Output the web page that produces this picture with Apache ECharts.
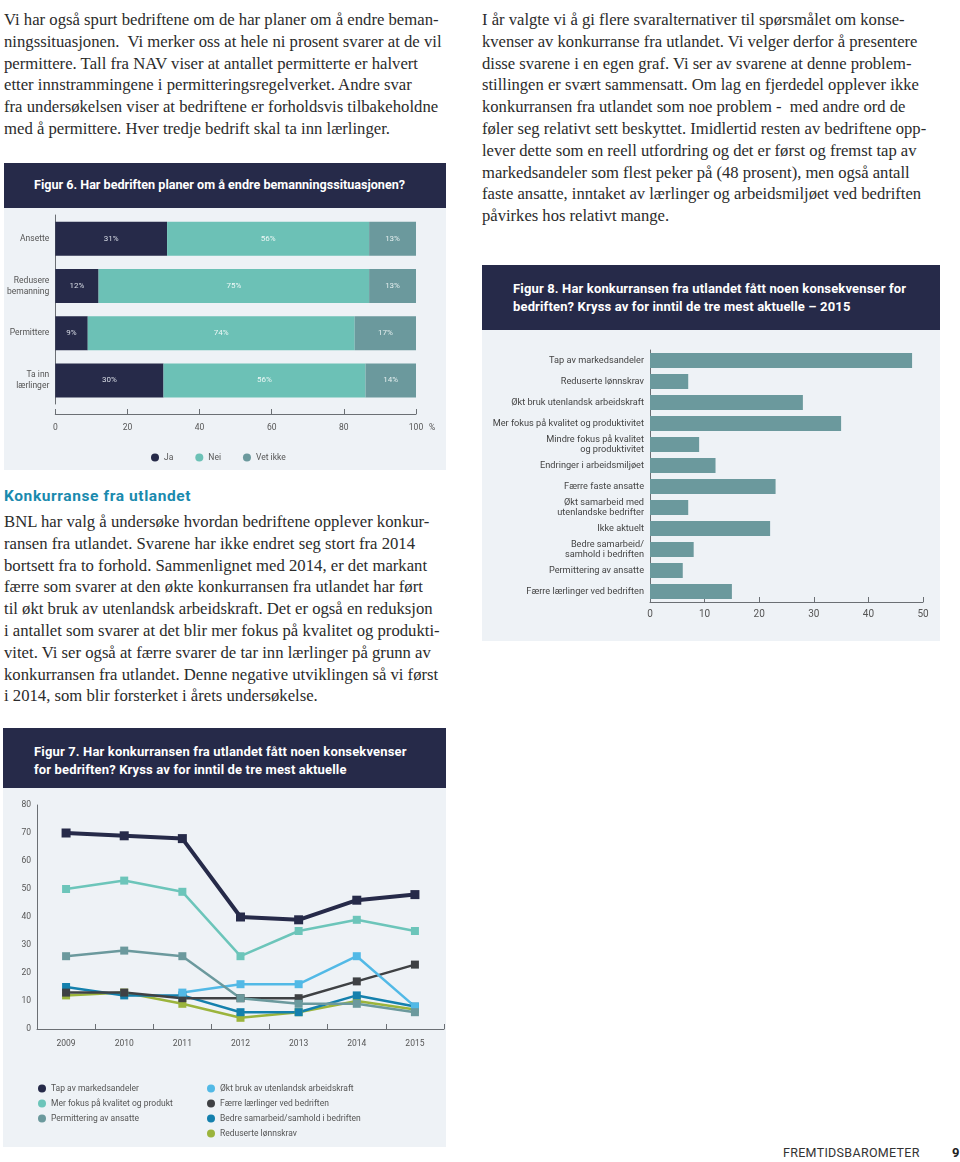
<!DOCTYPE html>
<html><head><meta charset="utf-8">
<script src="https://cdn.jsdelivr.net/npm/echarts/dist/echarts.min.js"></script>
<style>
html,body{margin:0;padding:0;background:#fff;}
body{width:960px;height:1162px;position:relative;overflow:hidden;}
.abs{position:absolute;}
.txt{font-family:"Liberation Serif",serif;font-size:16.7px;color:#2b2b2b;white-space:nowrap;}
.txt div{height:21.8px;line-height:21.8px;}
.hdr{background:#262a49;color:#fff;font-family:Roboto,sans-serif;font-weight:700;font-size:13px;letter-spacing:0.15px;box-sizing:border-box;}
.panel{background:#eef2f6;}
</style></head>
<body>
<div class="abs txt" style="left:4px;top:9px;">
<div>Vi har også spurt bedriftene om de har planer om å endre beman-</div>
<div>ningssituasjonen.&nbsp; Vi merker oss at hele ni prosent svarer at de vil</div>
<div>permittere. Tall fra NAV viser at antallet permitterte er halvert</div>
<div>etter innstrammingene i permitteringsregelverket. Andre svar</div>
<div>fra undersøkelsen viser at bedriftene er forholdsvis tilbakeholdne</div>
<div>med å permittere. Hver tredje bedrift skal ta inn lærlinger.</div>
</div>

<div class="abs txt" style="left:482px;top:9px;font-size:16.6px;">
<div>I år valgte vi å gi flere svaralternativer til spørsmålet om konse-</div>
<div>kvenser av konkurranse fra utlandet. Vi velger derfor å presentere</div>
<div>disse svarene i en egen graf. Vi ser av svarene at denne problem-</div>
<div>stillingen er svært sammensatt. Om lag en fjerdedel opplever ikke</div>
<div>konkurransen fra utlandet som noe problem -&nbsp; med andre ord de</div>
<div>føler seg relativt sett beskyttet. Imidlertid resten av bedriftene opp-</div>
<div>lever dette som en reell utfordring og det er først og fremst tap av</div>
<div>markedsandeler som flest peker på (48 prosent), men også antall</div>
<div>faste ansatte, inntaket av lærlinger og arbeidsmiljøet ved bedriften</div>
<div>påvirkes hos relativt mange.</div>
</div>

<div class="abs" style="left:4px;top:487px;font-family:Roboto,sans-serif;font-weight:700;font-size:15.5px;letter-spacing:0.6px;color:#1a8aae;">Konkurranse fra utlandet</div>
<div class="abs txt" style="left:4px;top:511px;">
<div>BNL har valg å undersøke hvordan bedriftene opplever konkur-</div>
<div>ransen fra utlandet. Svarene har ikke endret seg stort fra 2014</div>
<div>bortsett fra to forhold. Sammenlignet med 2014, er det markant</div>
<div>færre som svarer at den økte konkurransen fra utlandet har ført</div>
<div>til økt bruk av utenlandsk arbeidskraft. Det er også en reduksjon</div>
<div>i antallet som svarer at det blir mer fokus på kvalitet og produkti-</div>
<div>vitet. Vi ser også at færre svarer de tar inn lærlinger på grunn av</div>
<div>konkurransen fra utlandet. Denne negative utviklingen så vi først</div>
<div>i 2014, som blir forsterket i årets undersøkelse.</div>
</div>

<!-- Figure 6 -->
<div class="abs hdr" style="left:4px;top:163px;width:442px;height:45px;padding:14px 0 0 30px;font-size:12.6px;letter-spacing:0px;">Figur 6. Har bedriften planer om å endre bemanningssituasjonen?</div>
<div class="abs panel" style="left:4px;top:208px;width:442px;height:262px;"></div>
<div id="c6" class="abs" style="left:4px;top:208px;width:442px;height:262px;"></div>

<!-- Figure 8 -->
<div class="abs hdr" style="left:482px;top:265px;width:458px;height:65px;padding:15px 0 0 31px;line-height:17.5px;">Figur 8. Har konkurransen fra utlandet fått noen konsekvenser for<br>bedriften? Kryss av for inntil de tre mest aktuelle – 2015</div>
<div class="abs panel" style="left:482px;top:330px;width:458px;height:311px;"></div>
<div id="c8" class="abs" style="left:482px;top:330px;width:458px;height:311px;"></div>

<!-- Figure 7 -->
<div class="abs hdr" style="left:3px;top:728px;width:443px;height:60px;padding:15px 0 0 31px;line-height:17.5px;">Figur 7. Har konkurransen fra utlandet fått noen konsekvenser<br>for bedriften? Kryss av for inntil de tre mest aktuelle</div>
<div class="abs panel" style="left:3px;top:788px;width:443px;height:359px;"></div>
<div id="c7" class="abs" style="left:3px;top:788px;width:443px;height:359px;"></div>

<div class="abs" style="left:783px;top:1145px;font-family:Roboto,sans-serif;font-size:12.5px;color:#333;letter-spacing:0.3px;">FREMTIDSBAROMETER</div>
<div class="abs" style="left:952px;top:1145px;font-family:Roboto,sans-serif;font-weight:700;font-size:13px;color:#222;">9</div>

<script>
// ---------- Figure 6 data ----------
const fig6Categories = ['Ansette', 'Redusere\nbemanning', 'Permittere', 'Ta inn\nlærlinger'];
const fig6Ja = [31, 12, 9, 30];
const fig6Nei = [56, 75, 74, 56];
const fig6VetIkke = [13, 13, 17, 14];
const fig6Ticks = [0, 20, 40, 60, 80, 100];

// ---------- Figure 7 data ----------
const fig7Years = ['2009', '2010', '2011', '2012', '2013', '2014', '2015'];
const tapAvMarkedsandeler = [70, 69, 68, 40, 39, 46, 48];
const merFokusKvalitet = [50, 53, 49, 26, 35, 39, 35];
const permitteringAnsatte = [26, 28, 26, 11, 9, 9, 6];
const oktBrukUtenlandsk = [null, null, 13, 16, 16, 26, 8];
const faerreLaerlinger = [13, 13, 11, 11, 11, 17, 23];
const bedreSamarbeid = [15, 12, 12, 6, 6, 12, 8];
const reduserteLonnskrav = [12, 13, 9, 4, 6, 10, 7];

// ---------- Figure 8 data ----------
const fig8Categories = ['Tap av markedsandeler', 'Reduserte lønnskrav', 'Økt bruk utenlandsk arbeidskraft',
  'Mer fokus på kvalitet og produktivitet', 'Mindre fokus på kvalitet\nog produktivitet', 'Endringer i arbeidsmiljøet',
  'Færre faste ansatte', 'Økt samarbeid med\nutenlandske bedrifter', 'Ikke aktuelt', 'Bedre samarbeid/\nsamhold i bedriften',
  'Permittering av ansatte', 'Færre lærlinger ved bedriften'];
const fig8Values = [48, 7, 28, 35, 9, 12, 23, 7, 22, 8, 6, 15];

const FONT = 'Roboto, sans-serif';
const AX = '#6b6f74';

// ---------- Chart 6 ----------
const c6 = echarts.init(document.getElementById('c6'));
function barSeries(name, data, color, labelColor) {
  return {
    name, type: 'bar', stack: 'all', data, barWidth: 34,
    itemStyle: { color },
    label: { show: true, position: 'inside', formatter: '{c}%', color: labelColor, fontFamily: FONT, fontSize: 8 }
  };
}
c6.setOption({
  animation: false,
  grid: { left: 50, right: 30, top: 7, height: 189 },
  xAxis: {
    type: 'value', min: 0, max: 100, interval: 20, offset: 10,
    axisLine: { show: true, lineStyle: { color: AX, width: 1 } },
    axisTick: { show: true, inside: true, length: 5, lineStyle: { color: AX } },
    splitLine: { show: false },
    axisLabel: { color: '#555', fontFamily: FONT, fontSize: 8.5, margin: 9,
      formatter: v => fig6Ticks.includes(v) ? String(v) : '' },
    name: '%', nameLocation: 'end', nameGap: 12,
    nameTextStyle: { color: '#555', fontFamily: FONT, fontSize: 8.5, verticalAlign: 'top', padding: [9, 0, 0, 0] }
  },
  yAxis: {
    type: 'category', data: fig6Categories, inverse: true,
    axisLine: { show: true, lineStyle: { color: AX, width: 1 } },
    axisTick: { show: false },
    axisLabel: { color: '#555', fontFamily: FONT, fontSize: 8.5, lineHeight: 11, margin: 6, align: 'right' }
  },
  legend: {
    left: 142, top: 240, itemGap: 22, itemWidth: 8, itemHeight: 8, icon: 'circle',
    textStyle: { color: '#555', fontFamily: FONT, fontSize: 8.5 },
    data: ['Ja', 'Nei', 'Vet ikke']
  },
  series: [
    barSeries('Ja', fig6Ja, '#262a49', '#d9dde6'),
    barSeries('Nei', fig6Nei, '#6cc1b6', '#eef8f6'),
    barSeries('Vet ikke', fig6VetIkke, '#6b999d', '#e3eeee')
  ]
});

// ---------- Chart 7 ----------
const c7 = echarts.init(document.getElementById('c7'));
function lineSeries(name, data, color, width) {
  return {
    name, type: 'line', data, symbol: 'rect', symbolSize: width > 3 ? 9 : 8,
    lineStyle: { color, width }, itemStyle: { color }, connectNulls: false
  };
}
const series7 = [
  lineSeries('Reduserte lønnskrav', reduserteLonnskrav, '#9bb43c', 2.5),
  lineSeries('Bedre samarbeid/samhold i bedriften', bedreSamarbeid, '#1480ad', 2.5),
  lineSeries('Færre lærlinger ved bedriften', faerreLaerlinger, '#3f4144', 2.5),
  lineSeries('Økt bruk av utenlandsk arbeidskraft', oktBrukUtenlandsk, '#52b9e6', 2.5),
  lineSeries('Permittering av ansatte', permitteringAnsatte, '#6b999d', 2.5),
  lineSeries('Mer fokus på kvalitet og produkt', merFokusKvalitet, '#6cc5ba', 2.5),
  lineSeries('Tap av markedsandeler', tapAvMarkedsandeler, '#262a49', 4)
];
const legStyle = { orient: 'vertical', padding: 0, itemGap: 6, itemWidth: 8, itemHeight: 8, icon: 'circle',
  textStyle: { color: '#555', fontFamily: FONT, fontSize: 8.5 } };
c7.setOption({
  animation: false,
  grid: { left: 34, right: 2, top: 17, height: 224 },
  xAxis: {
    type: 'category', data: fig7Years, boundaryGap: true,
    axisLine: { show: true, lineStyle: { color: AX } },
    axisTick: { show: true, inside: true, length: 5, lineStyle: { color: AX } },
    axisLabel: { color: '#555', fontFamily: FONT, fontSize: 8.5, margin: 10 }
  },
  yAxis: {
    type: 'value', min: 0, max: 80, interval: 10,
    axisLine: { show: true, lineStyle: { color: AX } },
    axisTick: { show: false },
    splitLine: { show: false },
    axisLabel: { color: '#555', fontFamily: FONT, fontSize: 8.5, margin: 6 }
  },
  legend: [
    Object.assign({ left: 35, top: 296, data: ['Tap av markedsandeler', 'Mer fokus på kvalitet og produkt', 'Permittering av ansatte'] }, legStyle),
    Object.assign({ left: 204, top: 296, data: ['Økt bruk av utenlandsk arbeidskraft', 'Færre lærlinger ved bedriften', 'Bedre samarbeid/samhold i bedriften', 'Reduserte lønnskrav'] }, legStyle)
  ],
  series: series7
});

// ---------- Chart 8 ----------
const c8 = echarts.init(document.getElementById('c8'));
c8.setOption({
  animation: false,
  grid: { left: 168, right: 17, top: 20, height: 252 },
  xAxis: {
    type: 'value', min: 0, max: 50, interval: 10,
    axisLine: { show: true, lineStyle: { color: AX } },
    axisTick: { show: true, inside: true, length: 5, lineStyle: { color: AX } },
    splitLine: { show: false },
    axisLabel: { color: '#555', fontFamily: FONT, fontSize: 10, margin: 7 }
  },
  yAxis: {
    type: 'category', data: fig8Categories, inverse: true,
    axisLine: { show: true, lineStyle: { color: AX } },
    axisTick: { show: false },
    axisLabel: { color: '#444', fontFamily: FONT, fontSize: 9.2, lineHeight: 10, margin: 6, align: 'right', interval: 0 }
  },
  series: [{ type: 'bar', data: fig8Values, barWidth: 15, itemStyle: { color: '#6b999d' } }]
});
</script>
</body></html>
